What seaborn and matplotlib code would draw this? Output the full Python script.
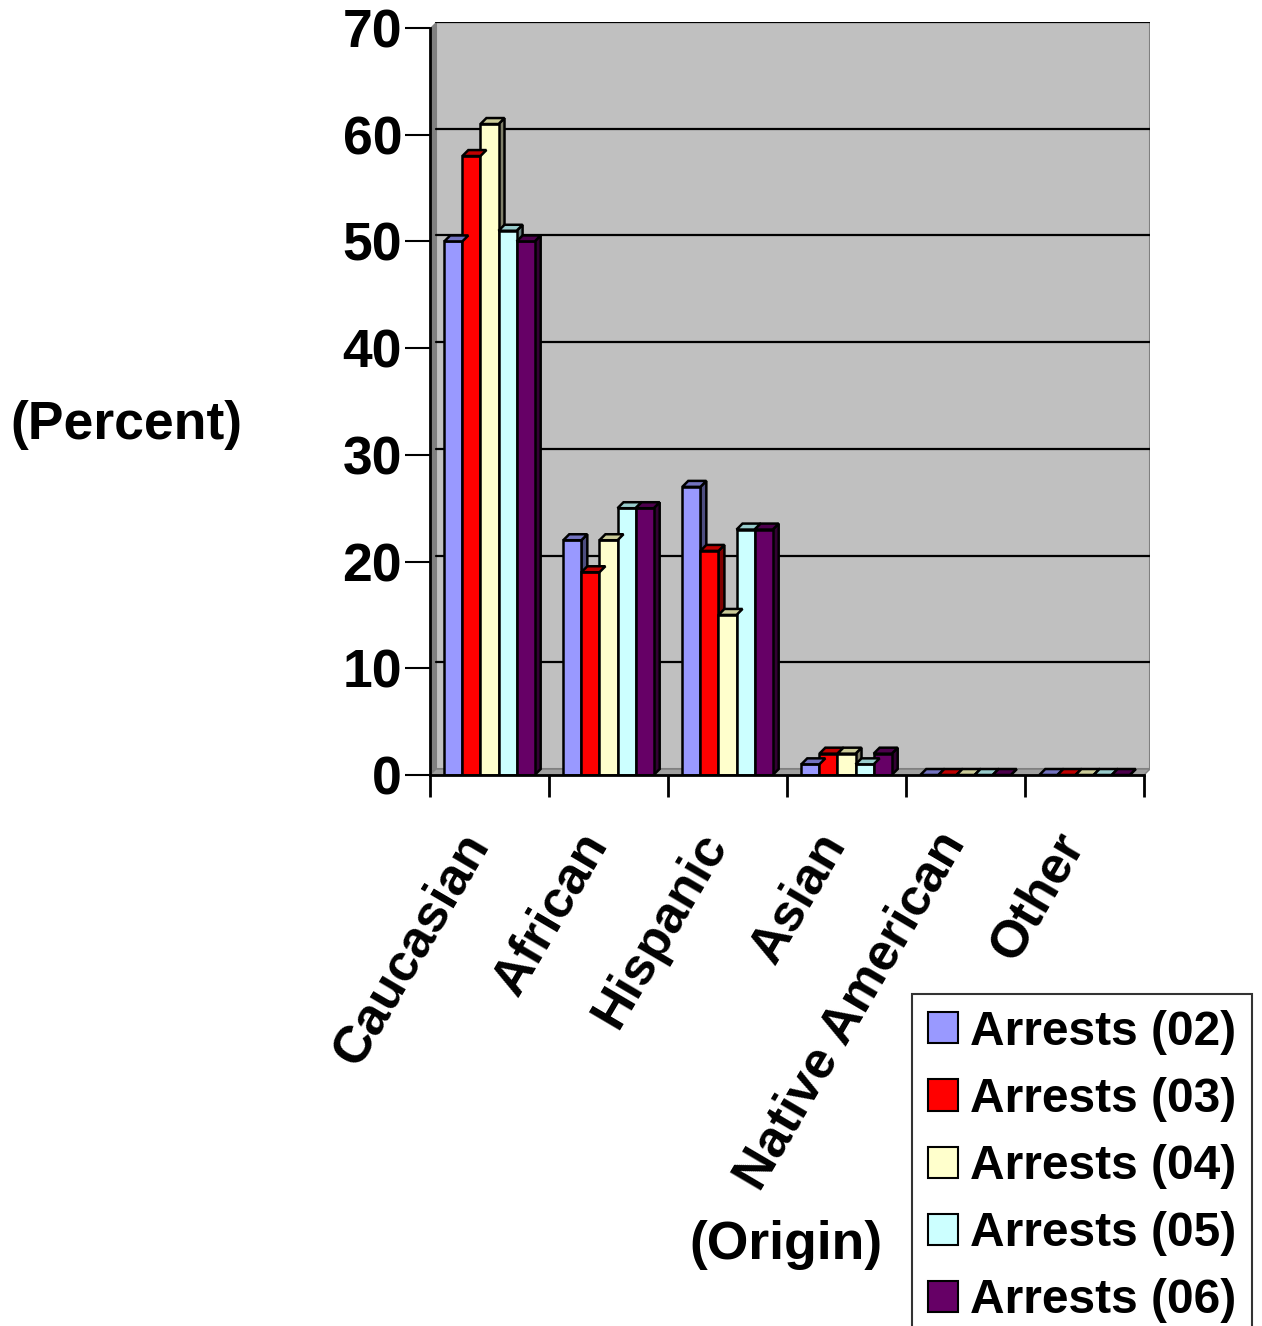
import matplotlib
matplotlib.use("Agg")
import matplotlib.pyplot as plt
import seaborn as sns
import pandas as pd
from matplotlib.patches import Polygon, Rectangle

origins = ["Caucasian", "African", "Hispanic", "Asian", "Native American", "Other"]
series = ["Arrests (02)", "Arrests (03)", "Arrests (04)", "Arrests (05)", "Arrests (06)"]
arrests_02 = [50, 22, 27, 1, 0, 0]
arrests_03 = [58, 19, 21, 2, 0, 0]
arrests_04 = [61, 22, 15, 2, 0, 0]
arrests_05 = [51, 25, 23, 1, 0, 0]
arrests_06 = [50, 25, 23, 2, 0, 0]
y_ticks = [0, 10, 20, 30, 40, 50, 60, 70]

front_colors = ["#9999FF", "#FF0000", "#FFFFCC", "#CCFFFF", "#660066"]
top_colors = ["#7373C0", "#C00000", "#CCCC99", "#99CCCC", "#4D004D"]
side_colors = ["#4D4D80", "#800000", "#80806A", "#668080", "#330033"]

rows = []
for name, vals in zip(series, [arrests_02, arrests_03, arrests_04, arrests_05, arrests_06]):
    for o, v in zip(origins, vals):
        rows.append({"Origin": o, "Series": name, "Percent": v})
df = pd.DataFrame(rows)

sns.set_style("white")
plt.rcParams["font.family"] = ["Liberation Sans", "DejaVu Sans"]
plt.rcParams["font.weight"] = "bold"
for key in ["text.color", "axes.labelcolor", "xtick.color", "ytick.color"]:
    plt.rcParams[key] = "black"

AXIS_FS = 38.5
CAT_FS = 37.5
LEGEND_FS = 34.5
EDGE_LW = 1.8

W, H = 1262, 1326
fig = plt.figure(figsize=(W / 100, H / 100), dpi=100)
ax = fig.add_axes([430 / W, 1 - 775 / H, 720 / W, 753 / H])

# depth of the pseudo-3D effect, in data units
dx, dy = 0.05, 0.56

ax.set_facecolor("white")

# back wall, side wall and floor
ax.add_patch(Rectangle((-0.5 + dx, dy), 6.0, 70, facecolor="#C0C0C0",
                       edgecolor="#808080", lw=1.5, zorder=0))
ax.add_patch(Polygon([(-0.5, 0), (-0.5 + dx, dy), (-0.5 + dx, 70 + dy), (-0.5, 70)],
                     closed=True, facecolor="#808080", edgecolor="none", zorder=0.5))
ax.add_patch(Polygon([(-0.5, 0), (5.5, 0), (5.5 + dx, dy), (-0.5 + dx, dy)],
                     closed=True, facecolor="#A0A0A0", edgecolor="#808080", lw=1, zorder=0.5))
for t in y_ticks[1:]:
    ax.plot([-0.5 + dx, 5.5 + dx], [t + dy, t + dy], color="black", lw=1.6, zorder=0.8)

sns.barplot(data=df, x="Origin", y="Percent", hue="Series", order=origins,
            hue_order=series, palette=front_colors, width=0.76, dodge=True,
            edgecolor="black", linewidth=EDGE_LW, saturation=1, ax=ax, legend=False,
            zorder=2)

# side and top faces of each bar
for ci, cont in enumerate(ax.containers):
    for bar in cont:
        x0 = bar.get_x()
        x1 = x0 + bar.get_width()
        h = bar.get_height()
        side = Polygon([(x1, 0), (x1, h), (x1 + dx, h + dy), (x1 + dx, dy)], closed=True,
                       facecolor=side_colors[ci], edgecolor="black", lw=EDGE_LW, zorder=1.9)
        top = Polygon([(x0, h), (x1, h), (x1 + dx, h + dy), (x0 + dx, h + dy)], closed=True,
                      facecolor=top_colors[ci], edgecolor="black", lw=EDGE_LW, zorder=2.1)
        ax.add_patch(side)
        ax.add_patch(top)
ax.set_xlim(-0.5, 5.5 + dx)
ax.set_ylim(0, 70 + dy)

for s in ["top", "right"]:
    ax.spines[s].set_visible(False)
ax.spines["left"].set_color("black")
ax.spines["left"].set_linewidth(2)
ax.spines["left"].set_bounds(0, 70)
ax.spines["bottom"].set_color("black")
ax.spines["bottom"].set_linewidth(2)
ax.spines["bottom"].set_bounds(-0.5, 5.5)

ax.set_yticks(y_ticks)
ax.set_yticklabels([str(t) for t in y_ticks], fontsize=AXIS_FS, fontweight="bold")
ax.tick_params(axis="y", length=18, width=1.5, pad=2, color="black", left=True)

ax.set_xticks(range(len(origins)))
ax.set_xticklabels(origins, fontsize=CAT_FS, fontweight="bold", rotation=59.5,
                   ha="right", va="baseline", rotation_mode="anchor")
ax.set_xticks([i - 0.5 for i in range(len(origins) + 1)], minor=True)
ax.tick_params(axis="x", which="major", length=0, pad=49)
ax.tick_params(axis="x", which="minor", length=16, width=2, color="black", bottom=True)
ax.set_xlabel("")
ax.set_ylabel("")

fig.text(10 / W, 1 - 425 / H, "(Percent)", fontsize=AXIS_FS, fontweight="bold",
         ha="left", va="center")
fig.text(786 / W, 1 - 1245 / H, "(Origin)", fontsize=AXIS_FS, fontweight="bold",
         ha="center", va="center")

handles = [Rectangle((0, 0), 1, 1, facecolor=c, edgecolor="black", lw=1.5) for c in front_colors]
leg = fig.legend(handles, series, loc="upper left", bbox_to_anchor=(912 / W, 1 - 994 / H),
                 prop={"size": LEGEND_FS, "weight": "bold"}, frameon=True, fancybox=False,
                 edgecolor="black", handlelength=0.62, handleheight=0.62,
                 handletextpad=0.26, labelspacing=0.46, borderpad=0.33,
                 borderaxespad=0)
leg.get_frame().set_linewidth(1.5)

fig.savefig("out.png", dpi=100)
